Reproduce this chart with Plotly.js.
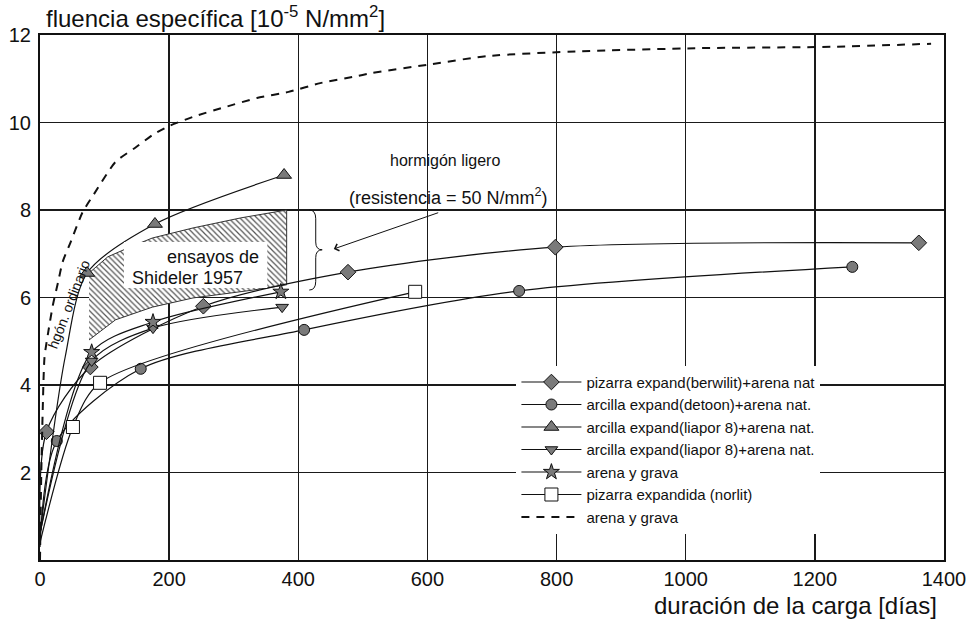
<!DOCTYPE html>
<html>
<head>
<meta charset="utf-8">
<script src="https://cdn.plot.ly/plotly-3.0.1.min.js"></script>
<style>html,body{margin:0;padding:0;background:#fff;}#chart{width:974px;height:625px;}</style>
</head>
<body>
<div id="chart"></div>
<script>
// ---- data ----
var legendNames = [
  "pizarra expand(berwilit)+arena nat",
  "arcilla expand(detoon)+arena nat.",
  "arcilla expand(liapor 8)+arena nat.",
  "arcilla expand(liapor 8)+arena nat.",
  "arena y grava",
  "pizarra expandida (norlit)",
  "arena y grava"
];
// curve points; the flags say which points carry a measured marker
var berwilitX = [0, 10, 78, 253, 477, 798, 1361];
var berwilitY = [0.5, 2.93, 4.41, 5.80, 6.58, 7.15, 7.25];
var berwilitM = [0, 1, 1, 1, 1, 1, 1];
var detoonX = [0, 26, 156, 409, 742, 1258];
var detoonY = [0.3, 2.72, 4.37, 5.26, 6.15, 6.70];
var detoonM = [0, 1, 1, 1, 1, 1];
var liaporUpX = [0, 39, 73, 178, 378];
var liaporUpY = [0.6, 4.64, 6.56, 7.68, 8.80];
var liaporUpM = [0, 0, 1, 1, 1];
var liaporDownX = [0, 80, 175, 375];
var liaporDownY = [0.6, 4.55, 5.30, 5.78];
var liaporDownM = [0, 1, 1, 1];
var gravaX = [0, 80, 175, 373];
var gravaY = [0.6, 4.75, 5.44, 6.13];
var gravaM = [0, 1, 1, 1];
var norlitX = [0, 51, 93, 581];
var norlitY = [0.4, 3.04, 4.05, 6.13];
var norlitM = [0, 1, 1, 1];
var normalX = [0, 2, 4, 7, 13, 20, 28, 35, 47, 66, 83, 117, 149, 174, 197, 237, 286, 336, 385, 434, 484, 514, 600, 694, 839, 1023, 1226, 1380];
var normalY = [0, 2.0, 3.3, 4.64, 5.23, 5.83, 6.35, 6.81, 7.25, 7.95, 8.35, 9.1, 9.44, 9.71, 9.9, 10.13, 10.35, 10.56, 10.7, 10.9, 11.04, 11.13, 11.32, 11.52, 11.63, 11.7, 11.73, 11.8];
// Shideler 1957 test band (hatched region)
var shidelerX = [76, 105, 139, 174, 237, 311, 382, 382, 330, 237, 174, 117, 76];
var shidelerY = [6.56, 6.93, 7.15, 7.36, 7.59, 7.82, 8.0, 6.29, 6.17, 5.99, 5.78, 5.49, 5.03];
var xTicks = [0, 200, 400, 600, 800, 1000, 1200, 1400];
var yTicks = [2, 4, 6, 8, 10, 12];

function picked(flags) { var a = []; flags.forEach(function (v, i) { if (v) a.push(i); }); return a; }
var markFill = '#7a7a7a';
var lineStyle = {color: '#111', width: 1.2, shape: 'spline', smoothing: 0.8};
function series(x, y, flags, name, symbol, size, fill) {
  return {x: x, y: y, name: name, type: 'scatter', mode: 'lines+markers', line: lineStyle,
    marker: {symbol: symbol, size: size, color: fill || markFill, line: {color: '#111', width: 1}},
    selectedpoints: picked(flags),
    selected: {marker: {opacity: 1}}, unselected: {marker: {opacity: 0}}};
}

var traces = [
  {x: shidelerX, y: shidelerY, type: 'scatter', mode: 'lines', fill: 'toself',
   fillcolor: 'rgba(255,255,255,0)', fillpattern: {shape: '\\', fgcolor: '#555', bgcolor: '#fff', size: 4, solidity: 0.3},
   line: {color: '#333', width: 1}, showlegend: false, hoverinfo: 'skip'},
  series(berwilitX, berwilitY, berwilitM, legendNames[0], 'diamond', 12),
  series(detoonX, detoonY, detoonM, legendNames[1], 'circle', 11),
  series(liaporUpX, liaporUpY, liaporUpM, legendNames[2], 'triangle-up', 13),
  series(liaporDownX, liaporDownY, liaporDownM, legendNames[3], 'triangle-down', 11),
  series(gravaX, gravaY, gravaM, legendNames[4], 'star', 12),
  series(norlitX, norlitY, norlitM, legendNames[5], 'square', 13, '#fff'),
  {x: normalX, y: normalY, name: legendNames[6], type: 'scatter', mode: 'lines',
   line: {color: '#111', width: 2, dash: '8px,7px', shape: 'spline', smoothing: 0.6}}
];

var fam = 'Liberation Sans, Arial, sans-serif';
function f(size) { return {family: fam, color: '#111', size: size}; }

var layout = {
  width: 974, height: 625,
  margin: {l: 40, r: 30, t: 35, b: 65},
  paper_bgcolor: '#fff', plot_bgcolor: '#fff',
  showlegend: true,
  legend: {x: 0.527, y: 0.37, xanchor: 'left', yanchor: 'top', bgcolor: '#fff', borderwidth: 0,
           font: f(15), itemwidth: 60, tracegroupgap: 0},
  xaxis: {range: [0, 1400], tickvals: xTicks, showgrid: true, gridcolor: '#1a1a1a', gridwidth: 1.5,
          zeroline: false, showline: true, linecolor: '#111', linewidth: 2, mirror: true,
          ticks: '', tickfont: f(20), fixedrange: true},
  yaxis: {range: [0, 12], tickvals: yTicks, showgrid: true, gridcolor: '#1a1a1a', gridwidth: 1.5,
          zeroline: false, showline: true, linecolor: '#111', linewidth: 2, mirror: true,
          ticks: '', tickfont: f(20), ticklabelstandoff: 3, fixedrange: true},
  shapes: [
    {type: 'rect', xref: 'x', yref: 'y', x0: 130, x1: 352, y0: 6.22, y1: 7.27, fillcolor: '#fff', line: {width: 0}, layer: 'above'},
    {type: 'path', xref: 'x', yref: 'y', layer: 'above', line: {color: '#111', width: 1},
     path: 'M417,8.0 Q427,8.0 427,7.8 L427,7.27 Q427,7.09 437,7.09 Q427,7.09 427,6.91 L427,6.37 Q427,6.17 417,6.17'}
  ],
  annotations: [
    {xref: 'paper', yref: 'paper', x: 0.004, y: 1.034, xanchor: 'left', yanchor: 'middle', showarrow: false,
     text: 'fluencia específica [10<sup>-5</sup> N/mm<sup>2</sup>]', font: f(24)},
    {xref: 'paper', yref: 'paper', x: 0.995, y: -0.086, xanchor: 'right', yanchor: 'middle', showarrow: false,
     text: 'duración de la carga [días]', font: f(24)},
    {xref: 'x', yref: 'y', x: 627, y: 9.14, showarrow: false, text: 'hormigón ligero', font: f(16)},
    {xref: 'x', yref: 'y', x: 632, y: 8.3, showarrow: false, text: '(resistencia = 50 N/mm<sup>2</sup>)', font: f(18)},
    {xref: 'x', yref: 'y', x: 268, y: 6.93, showarrow: false, text: 'ensayos de', font: f(18)},
    {xref: 'x', yref: 'y', x: 228, y: 6.45, showarrow: false, text: 'Shideler 1957', font: f(18)},
    {xref: 'x', yref: 'y', x: 45, y: 5.85, showarrow: false, text: 'hgón. ordinario', textangle: -69, font: f(14)},
    {xref: 'x', yref: 'y', x: 455, y: 7.11, axref: 'x', ayref: 'y', ax: 619, ay: 7.95, text: '',
     showarrow: true, arrowhead: 4, arrowsize: 1.4, arrowwidth: 1, arrowcolor: '#111'}
  ],
  font: f(13)
};

Plotly.newPlot('chart', traces, layout, {displayModeBar: false, staticPlot: true});
</script>
</body>
</html>
